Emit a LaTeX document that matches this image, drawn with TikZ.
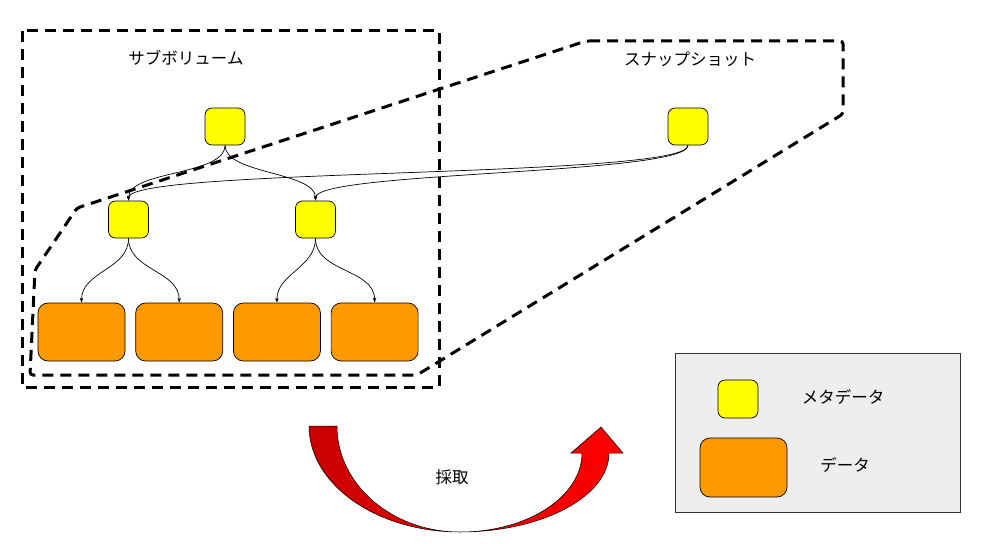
\documentclass[tikz,border=0pt]{standalone}
\usepackage{fontspec}
\newfontfamily\jpfont{Noto Sans CJK JP}
\usetikzlibrary{arrows.meta, positioning}
\definecolor{MetaYellow}{HTML}{FFFF00}
\definecolor{DataOrange}{HTML}{FF9900}
\definecolor{LegendGray}{HTML}{EEEEEE}
\definecolor{PickDark}{HTML}{C80000}
\definecolor{PickRed}{HTML}{FF0000}

\begin{document}
\begin{tikzpicture}[x=1pt, y=-1pt, >={Stealth[length=5pt,width=3.5pt]},
        metabox/.style={rectangle, draw=black, fill=MetaYellow, rounded corners=7pt, minimum width=40pt, minimum height=37pt, line width=0.7pt},
        databox/.style={rectangle, draw=black, fill=DataOrange, rounded corners=10pt, minimum width=87pt, minimum height=58pt, line width=0.7pt},
        framelabel/.style={font=\jpfont\fontsize{16.5}{19}\selectfont},
        dashframe/.style={line width=3pt, dash pattern=on 11pt off 7pt},
        link/.style={->, line width=0.7pt}]

        \useasboundingbox (0,0) rectangle (995,543);

        % frames
        \draw[dashframe] (22,31) rectangle (439,387);
        \draw[dashframe, rounded corners=3pt] (586,41) -- (843,41) -- (843,114) -- (417,375) -- (30,375) -- (35,270) -- (77,208) -- cycle;

        \node[framelabel] (subvol) at (186,58) {サブボリューム};
        \node[framelabel] (snap) at (690,59) {スナップショット};

        \node[metabox] (root) at (225,126.5) {};
        \node[metabox] (snaproot) at (688,126.5) {};
        \node[metabox] (metaL) at (128.5,219.5) {};
        \node[metabox] (metaR) at (315.5,219.5) {};
        \node[databox] (dataA) at (81.5,332) {};
        \node[databox, right=10pt of dataA] (dataB) {};
        \node[databox, right=10pt of dataB] (dataC) {};
        \node[databox, right=10pt of dataC] (dataD) {};

        \draw[link] (root.south) to[out=270, in=90, looseness=0.7] (metaL.north);
        \draw[link] (root.south) to[out=270, in=90, looseness=0.7] (metaR.north);
        \draw[link] (snaproot.south) to[out=270, in=90, looseness=0.15] (metaL.north);
        \draw[link] (snaproot.south) to[out=270, in=90, looseness=0.2] (metaR.north);
        \draw[link] (metaL.south) to[out=270, in=90] (dataA.north);
        \draw[link] (metaL.south) to[out=270, in=90] (dataB.north);
        \draw[link] (metaR.south) to[out=270, in=90] (dataC.north);
        \draw[link] (metaR.south) to[out=270, in=90] (dataD.north);

        % pick-up arrow
        \shadedraw[left color=PickDark, right color=PickRed, draw=black, line width=0.5pt]
            (309,426) -- (337,426) .. controls (337,484.5) and (392,532) .. (460,532)
            .. controls (527.4,532) and (582,496.6) .. (582,453) -- (571,453) -- (601,427) -- (623,453) -- (609,453)
            .. controls (609,496.6) and (542,532) .. (460,532)
            .. controls (376.6,532) and (309,484.5) .. (309,426) -- cycle;
        \node[framelabel] (pick) at (452,477) {採取};

        % legend
        \node[rectangle, draw=black!80, fill=LegendGray, minimum width=285pt, minimum height=159pt, line width=0.7pt] (legend) at (817.5,432.5) {};
        \node[metabox, minimum height=38pt] (keymeta) at (738,399) {};
        \node[databox, minimum height=59pt] (keydata) at (743.5,467.5) {};
        \node[framelabel] (keymetatext) at (843,397) {メタデータ};
        \node[framelabel] (keydatatext) at (845,465) {データ};
    \end{tikzpicture}
\end{document}
